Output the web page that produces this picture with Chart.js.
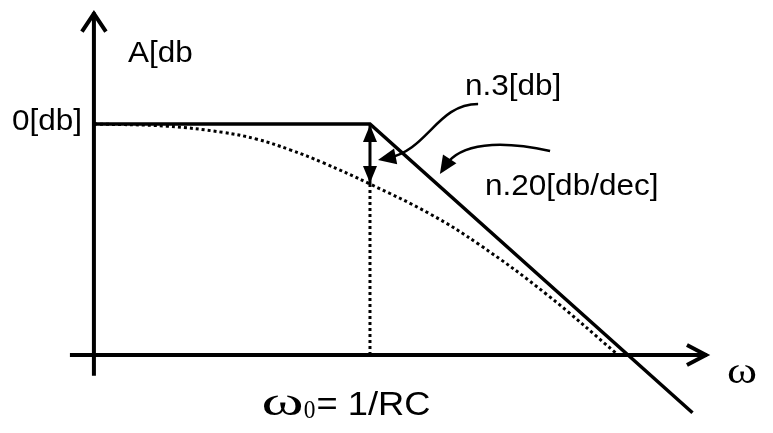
<!DOCTYPE html>
<html lang="en">
<head>
  <meta charset="UTF-8">
  <title>Bode - low pass</title>
  <script src="https://cdn.jsdelivr.net/npm/chart.js"></script>
  <style>
    body { margin: 0; background: #fff; }
    #wrap { width: 773px; height: 433px; }
  </style>
</head>
<body>
  <div id="wrap"><canvas id="bode" width="773" height="433"></canvas></div>

  <script>
    // x = log10(w / w0) in decades, y = gain in "dB" (schematic)
    const xRange = [-1.434, 1.562];
    const yRange = [-53.5, 21.47];

    const axisLevel = -40;          // where the omega axis sits
    const yAxisAt = -1.07;          // where the A axis sits
    const xAxisSpan = [-1.163, 1.306];
    const yAxisSpan = [-43.6, 19.3];

    // asymptotic approximation
    const asymW  = [-1.07, 0, 1.25];
    const asymDb = [0, 0, -50];

    // real response (dotted)
    const realW  = [-1.07, -0.787, -0.57, -0.438, -0.31, -0.182, 0, 0.233, 0.426, 0.686, 0.957];
    const realDb = [0, -0.38, -1.45, -2.63, -4.47, -6.7, -10.39, -15.58, -20.95, -29.54, -39.8];

    const cornerW = 0;
    const cornerDrop = -10.39;

    // curved pointer arrows: start, ctrl1, ctrl2, tip
    const pointer3dB  = [[0.419, 3.46], [0.26, 3.46], [0.225, -4.5], [0.031, -6.23]];
    const pointerSlope = [[0.698, -4.68], [0.504, -2.77], [0.349, -3.29], [0.271, -8.66]];

    const labelText = ['A[db', '0[db]', 'n.3[db]', 'n.20[db/dec]', 'ω'];
    const labelX    = [-0.938, -1.116, 0.368, 0.446, 1.384];
    const labelY    = [10.74, -1.04, 5.02, -12.3, -44.85];
    const bottomLabelAt = [-0.42, -50.4];

    const pts = (xs, ys) => xs.map((x, i) => ({ x: x, y: ys[i] }));

    const sans = '"Liberation Sans", Arial, sans-serif';
    const serif = '"Liberation Serif", "Times New Roman", serif';

    function stretchText(ctx, text, x, y, font, sx, align) {
      ctx.save();
      ctx.font = font;
      ctx.textAlign = align || 'left';
      ctx.textBaseline = 'alphabetic';
      ctx.translate(x, y);
      ctx.scale(sx, 1);
      ctx.fillText(text, 0, 0);
      const w = ctx.measureText(text).width * sx;
      ctx.restore();
      return w;
    }

    function filledHead(ctx, tx, ty, fromX, fromY, len, half) {
      const a = Math.atan2(ty - fromY, tx - fromX);
      ctx.beginPath();
      ctx.moveTo(tx, ty);
      ctx.lineTo(tx - len * Math.cos(a) + half * Math.sin(a), ty - len * Math.sin(a) - half * Math.cos(a));
      ctx.lineTo(tx - len * Math.cos(a) - half * Math.sin(a), ty - len * Math.sin(a) + half * Math.cos(a));
      ctx.closePath();
      ctx.fill();
    }

    const decorations = {
      id: 'decorations',
      afterDatasetsDraw(chart) {
        const ctx = chart.ctx;
        const sx = chart.scales.x, sy = chart.scales.y;
        const px = v => sx.getPixelForValue(v);
        const py = v => sy.getPixelForValue(v);
        ctx.save();
        ctx.strokeStyle = '#000';
        ctx.fillStyle = '#000';

        // open arrow tips on the axes
        ctx.lineWidth = 4;
        ctx.lineCap = 'butt';
        ctx.lineJoin = 'miter';
        let tx = px(yAxisAt), ty = py(yAxisSpan[1]);
        ctx.beginPath();
        ctx.moveTo(tx - 12, ty + 19);
        ctx.lineTo(tx, ty + 1);
        ctx.lineTo(tx + 12, ty + 19);
        ctx.stroke();
        tx = px(xAxisSpan[1]); ty = py(axisLevel);
        ctx.beginPath();
        ctx.moveTo(tx - 20, ty - 10);
        ctx.lineTo(tx - 1, ty);
        ctx.lineTo(tx - 20, ty + 10);
        ctx.stroke();

        // double arrow heads at the corner
        const cx = px(cornerW);
        filledHead(ctx, cx, py(0) + 1, cx, py(cornerDrop), 17, 7);
        filledHead(ctx, cx, py(cornerDrop) - 1, cx, py(0), 17, 7);

        // curved pointers
        ctx.lineWidth = 2.5;
        [pointer3dB, pointerSlope].forEach(p => {
          const q = p.map(v => [px(v[0]), py(v[1])]);
          const a = Math.atan2(q[3][1] - q[2][1], q[3][0] - q[2][0]);
          ctx.beginPath();
          ctx.moveTo(q[0][0], q[0][1]);
          ctx.bezierCurveTo(q[1][0], q[1][1], q[2][0], q[2][1], q[3][0] - 10 * Math.cos(a), q[3][1] - 10 * Math.sin(a));
          ctx.stroke();
          filledHead(ctx, q[3][0], q[3][1], q[2][0], q[2][1], 18, 8);
        });

        // labels
        labelText.forEach((t, i) => {
          const isOmega = t === 'ω';
          stretchText(ctx, t, px(labelX[i]), py(labelY[i]),
            isOmega ? '38px ' + serif : '30px ' + sans,
            isOmega ? 1.2 : 1.05,
            t === '0[db]' ? 'right' : 'left');
        });

        // w0 = 1/RC
        let bx = px(bottomLabelAt[0]);
        const by = py(bottomLabelAt[1]);
        bx += stretchText(ctx, 'ω', bx, by, '40px ' + serif, 1.6);
        bx += stretchText(ctx, '0', bx, by + 3, '26px ' + serif, 0.9);
        stretchText(ctx, '= 1/RC', bx + 1, by, '33px ' + sans, 1.1);

        ctx.restore();
      }
    };

    new Chart(document.getElementById('bode'), {
      type: 'scatter',
      data: {
        datasets: [
          { data: pts(xAxisSpan, [axisLevel, axisLevel]), borderColor: '#000', borderWidth: 4 },
          { data: pts([yAxisAt, yAxisAt], yAxisSpan), borderColor: '#000', borderWidth: 4 },
          { data: pts(realW, realDb), borderColor: '#000', borderWidth: 3, borderDash: [3, 3], tension: 0.4 },
          { data: pts([cornerW, cornerW], [cornerDrop, axisLevel]), borderColor: '#000', borderWidth: 3, borderDash: [3, 3] },
          { data: pts([cornerW, cornerW], [0, cornerDrop]), borderColor: '#000', borderWidth: 3 },
          { data: pts(asymW, asymDb), borderColor: '#000', borderWidth: 3.5 }
        ].map(d => Object.assign({ showLine: true, pointRadius: 0, clip: false, fill: false }, d))
      },
      options: {
        responsive: false,
        animation: false,
        layout: { padding: 0 },
        plugins: { legend: { display: false }, tooltip: { enabled: false } },
        scales: {
          x: { type: 'linear', min: xRange[0], max: xRange[1], display: false },
          y: { type: 'linear', min: yRange[0], max: yRange[1], display: false }
        }
      },
      plugins: [decorations]
    });
  </script>
</body>
</html>
